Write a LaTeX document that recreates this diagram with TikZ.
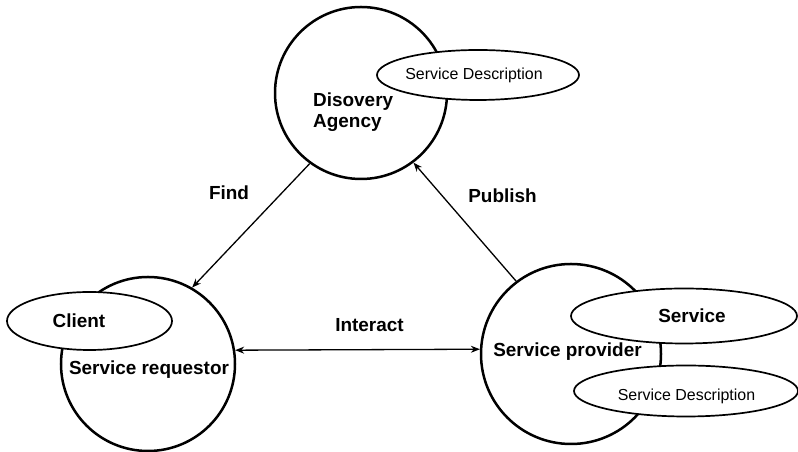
\documentclass[tikz,border=0pt]{standalone}
\usepackage{fontspec}
\setmainfont{Liberation Sans}
\usetikzlibrary{shapes.geometric,arrows.meta}
\begin{document}
\begin{tikzpicture}[x=1bp,y=1bp,
  bigcirc/.style={circle,draw,line width=2.5bp,inner sep=0pt,minimum size=#1},
  oval/.style={ellipse,draw,fill=white,line width=1.7bp,inner sep=0pt},
  lbl/.style={font=\fontsize{19}{21}\selectfont\bfseries,inner sep=0pt,anchor=base},
  small/.style={font=\fontsize{16}{18}\selectfont,inner sep=0pt,anchor=base},
  conn/.style={line width=1.3bp}]
\useasboundingbox (0,0) rectangle (798,452);
\fill[white] (0,0) rectangle (798,452);
% circles
\node[bigcirc=172bp] (agency) at (361,359) {};
\node[bigcirc=174bp] (req) at (148,88) {};
\node[bigcirc=180bp] (prov) at (571,98) {};
% connectors
\draw[conn,-{Stealth[length=9bp,width=7bp]}] (agency.234) -- (req.60);
\draw[conn,-{Stealth[length=9bp,width=7bp]}] (prov.127) -- (agency.-53);
\draw[conn,{Stealth[length=9bp,width=7bp]}-{Stealth[length=9bp,width=7bp]}] (req.9) -- (prov.177.5);
% ellipses
\node[oval,minimum width=202bp,minimum height=50bp] (sd1) at (478,377) {};
\node[oval,minimum width=165bp,minimum height=58bp] (client) at (89.5,131) {};
\node[oval,minimum width=226bp,minimum height=55bp] (service) at (684,136) {};
\node[oval,minimum width=224bp,minimum height=51bp] (sd2) at (686,61) {};
% texts
\node[small] (sd1t) at (474,372) {Service Description};
\node[lbl] (clientt) at (79,124) {Client};
\node[lbl] (servt) at (692,129) {Service};
\node[small] (sd2t) at (686.5,51) {Service Description};
\node[lbl,anchor=base west] (dis1) at (313,345) {Disovery};
\node[lbl,anchor=base west] (dis2) at (313,324) {Agency};
\node[lbl] (reqt) at (149,77) {Service requestor};
\node[lbl] (provt) at (567.5,95) {Service provider};
\node[lbl] (find) at (229,252) {Find};
\node[lbl] (pub) at (502.5,249) {Publish};
\node[lbl] (inter) at (369.5,120) {Interact};
\end{tikzpicture}
\end{document}
